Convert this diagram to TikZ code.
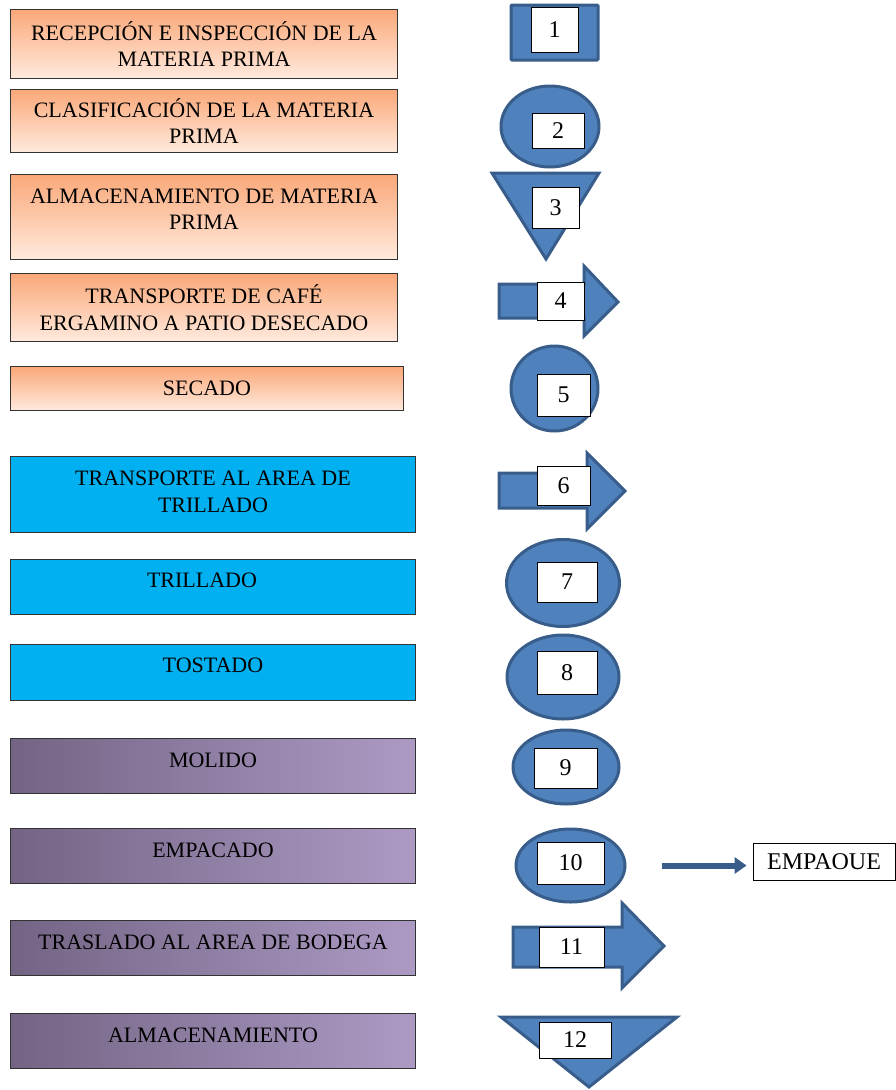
\documentclass[tikz,border=0pt]{standalone}
\usepackage{fontspec}
\setmainfont{Liberation Serif}
\usetikzlibrary{positioning,arrows.meta,shapes.geometric}

\definecolor{naranjaA}{RGB}{250,168,120}
\definecolor{naranjaB}{RGB}{255,234,222}
\definecolor{celeste}{RGB}{0,176,240}
\definecolor{moradoA}{RGB}{115,100,132}
\definecolor{moradoB}{RGB}{172,154,196}
\definecolor{azul}{RGB}{79,129,189}
\definecolor{azulB}{RGB}{56,93,138}

\begin{document}
\begin{tikzpicture}[
    x=1pt, y=-1pt,
    etapa/.style={
        rectangle,
        draw=black!80,
        line width=1pt,
        anchor=north west,
        minimum width=405pt,
        align=center,
        inner sep=0pt,
        font=\fontsize{22}{26.5}\selectfont
    },
    fase1/.style={etapa, top color=naranjaA, bottom color=naranjaB, minimum width=387pt},
    fase2/.style={etapa, fill=celeste},
    fase3/.style={etapa, left color=moradoA, right color=moradoB},
    arriba/.style={text depth=#1},
    simbolo/.style={draw=azulB, fill=azul, line width=3pt},
    numero/.style={
        rectangle,
        draw=black,
        fill=white,
        line width=0.8pt,
        inner sep=0pt,
        font=\fontsize{24}{28}\selectfont
    },
    flecha/.style={azulB, line width=6pt, -{Triangle[length=12pt,width=16pt]}}
]
\useasboundingbox (0,0) rectangle (896,1090);

% etapas del proceso
\node[fase1, minimum height=69pt] (p1) at (10,9) {RECEPCIÓN E INSPECCIÓN DE LA\\MATERIA PRIMA};
\node[fase1, minimum height=63pt] (p2) at (10,89) {CLASIFICACIÓN DE LA MATERIA\\PRIMA};
\node[fase1, minimum height=85pt, arriba=16pt] (p3) at (10,174) {ALMACENAMIENTO DE MATERIA\\PRIMA};
\node[fase1, minimum height=68pt] (p4) at (10,273) {TRANSPORTE DE CAFÉ\\ERGAMINO A PATIO DESECADO};
\node[fase1, minimum height=44pt, minimum width=393pt] (p5) at (10,366) {SECADO};

\node[fase2, minimum height=76pt, arriba=6pt] (p6) at (10,456) {TRANSPORTE AL AREA DE\\TRILLADO};
\node[fase2, minimum height=55pt, arriba=14pt] (p7) at (10,559) {TRILLADO\hspace*{22pt}};
\node[fase2, minimum height=56pt, arriba=14pt] (p8) at (10,644) {TOSTADO};

\node[fase3, minimum height=55pt, arriba=12pt] (p9) at (10,738) {MOLIDO};
\node[fase3, minimum height=55pt, arriba=12pt] (p10) at (10,828) {EMPACADO};
\node[fase3, minimum height=55pt, arriba=12pt] (p11) at (10,920) {TRASLADO AL AREA DE BODEGA};
\node[fase3, minimum height=55pt, arriba=12pt] (p12) at (10,1013) {ALMACENAMIENTO};

% simbolos
\node[simbolo, rectangle, rounded corners=1pt, minimum width=87pt, minimum height=55pt] (s1) at (554.5,32.5) {};
\node[simbolo, ellipse, minimum width=98pt, minimum height=81pt] (s2) at (550,126.5) {};
\draw[simbolo] (492,173) -- (599,173) -- (546,259) -- cycle;
\draw[simbolo] (499,284) -- (584,284) -- (584,266) -- (618,302) -- (584,336) -- (584,318) -- (499,318) -- cycle;
\node[simbolo, ellipse, minimum width=87pt, minimum height=85pt] (s5) at (554.5,388.5) {};
\draw[simbolo] (499,473) -- (587,473) -- (587,453) -- (625,491) -- (587,529) -- (587,508) -- (499,508) -- cycle;
\node[simbolo, ellipse, minimum width=113pt, minimum height=87pt] (s7) at (563,583) {};
\node[simbolo, ellipse, minimum width=112pt, minimum height=84pt] (s8) at (563,677) {};
\node[simbolo, ellipse, minimum width=106pt, minimum height=74pt] (s9) at (566,767) {};
\node[simbolo, ellipse, minimum width=109pt, minimum height=73pt] (s10) at (570.5,865.5) {};
\draw[simbolo] (513,927) -- (622,927) -- (622,903) -- (664,946) -- (622,988) -- (622,967) -- (513,967) -- cycle;
\draw[simbolo] (501,1017) -- (677,1017) -- (589,1087) -- cycle;

% numeros
\node[numero, minimum width=47pt, minimum height=45pt] (n1) at (554.5,29.5) {1};
\node[numero, minimum width=52pt, minimum height=35pt] (n2) at (558,130.5) {2};
\node[numero, minimum width=47pt, minimum height=41pt] (n3) at (555.5,207.5) {3};
\node[numero, minimum width=47pt, minimum height=38pt] (n4) at (560.5,301) {4};
\node[numero, minimum width=53pt, minimum height=42pt] (n5) at (563.5,395) {5};
\node[numero, minimum width=53pt, minimum height=39pt] (n6) at (563.5,485.5) {6};
\node[numero, minimum width=60pt, minimum height=40pt] (n7) at (567,582) {7};
\node[numero, minimum width=60pt, minimum height=43pt] (n8) at (567,672.5) {8};
\node[numero, minimum width=63pt, minimum height=40pt] (n9) at (565.5,768) {9};
\node[numero, minimum width=67pt, minimum height=42pt] (n10) at (570.5,863) {10};
\node[numero, minimum width=65pt, minimum height=40pt] (n11) at (571.5,947) {11};
\node[numero, minimum width=72pt, minimum height=36pt] (n12) at (575,1040) {12};

\node[numero, minimum width=142pt, minimum height=37pt] (empaque) at (824,861.5) {EMPAOUE};

\draw[flecha, shorten <=35pt, shorten >=6pt] (s10.east) -- (s10.east -| empaque.west);

\end{tikzpicture}
\end{document}
